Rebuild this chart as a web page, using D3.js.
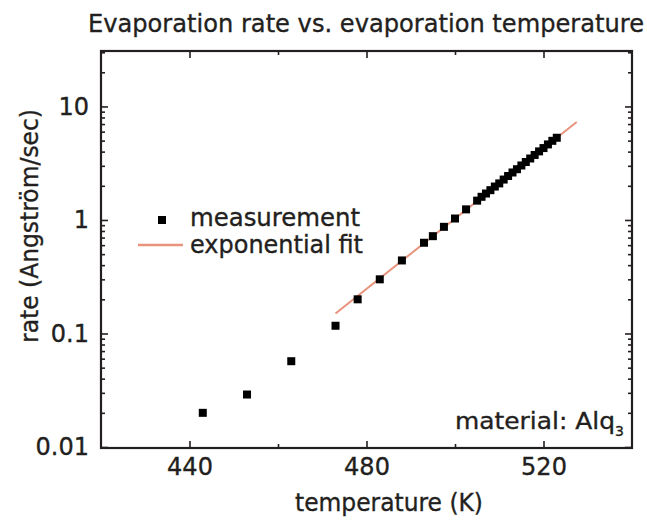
<!DOCTYPE html>
<html>
<head>
<meta charset="utf-8">
<script src="https://cdn.jsdelivr.net/npm/d3@7"></script>
<style>
  html, body { margin: 0; padding: 0; background: #fff; }
  svg { display: block; }
  text { font-family: "DejaVu Sans", sans-serif; fill: #231f20; stroke: #231f20; stroke-width: 0.35px; }
</style>
</head>
<body>
<svg id="chart" width="647" height="525"></svg>
<script>
// ---- data ----
const temperatures = [443, 453, 463, 473, 478, 483, 488, 493, 495, 497.5, 500, 502.5, 505,
  506, 507, 508, 509, 510, 511, 512, 513, 514, 515, 516, 517, 518, 519, 520, 521, 522, 523];
const rates = [0.020, 0.029, 0.057, 0.117, 0.20, 0.30, 0.44, 0.63, 0.72, 0.87, 1.03, 1.24, 1.48,
  1.60, 1.71, 1.83, 1.97, 2.10, 2.27, 2.44, 2.62, 2.80, 3.02, 3.24, 3.48, 3.74, 4.02, 4.30, 4.63, 4.98, 5.30];
const fitTemperatures = [473, 527.5];
const fitRates = [0.15, 7.3];
const xMajorTicks = [440, 480, 520];
const xMinorTicks = [460, 500];
const yMajorTicks = [0.01, 0.1, 1, 10];
const yTickLabels = ["0.01", "0.1", "1", "10"];
const titleText = "Evaporation rate vs. evaporation temperature";
const xTitle = "temperature (K)";
const yTitle = "rate (Angström/sec)";
const legendLabels = ["measurement", "exponential fit"];

// ---- layout ----
const L = 101, R = 632, T = 51, B = 448;
const ink = "#231f20";
const fitColor = "#e8937c";

const svg = d3.select("#chart");

const x = d3.scaleLinear().domain([420, 540]).range([L, R]);
const y = d3.scaleLog().domain([0.0098, 30.8]).range([B, T]);

const yMinorTicks = [];
[0.01, 0.1, 1, 10].forEach(d => { for (let k = 2; k <= 9; k++) { const v = d * k; if (v <= y.domain()[1]) yMinorTicks.push(v); } });

// title
svg.append("text").attr("x", 366).attr("y", 32).attr("text-anchor", "middle")
  .attr("font-size", 24).attr("textLength", 556).attr("lengthAdjust", "spacingAndGlyphs")
  .text(titleText);

// axes with inward ticks
function styleAxis(g) {
  g.select(".domain").remove();
  g.selectAll(".tick line").attr("stroke", ink).attr("stroke-width", 1.6);
  g.selectAll(".tick text").attr("font-family", "DejaVu Sans, sans-serif").attr("font-size", 24).attr("fill", ink);
}
const xfmt = d3.format("d");
svg.append("g").attr("transform", `translate(0,${B})`)
  .call(d3.axisBottom(x).tickValues(xMajorTicks).tickSize(-7).tickPadding(10).tickFormat(xfmt))
  .call(styleAxis);
svg.append("g").attr("transform", `translate(0,${B})`)
  .call(d3.axisBottom(x).tickValues(xMinorTicks).tickSize(-4).tickFormat("")).call(styleAxis);
svg.append("g").attr("transform", `translate(0,${T})`)
  .call(d3.axisTop(x).tickValues(xMajorTicks).tickSize(-7).tickFormat("")).call(styleAxis);
svg.append("g").attr("transform", `translate(0,${T})`)
  .call(d3.axisTop(x).tickValues(xMinorTicks).tickSize(-4).tickFormat("")).call(styleAxis);

svg.append("g").attr("transform", `translate(${L},0)`)
  .call(d3.axisLeft(y).tickValues(yMajorTicks).tickSize(-7).tickPadding(12)
    .tickFormat((d, i) => yTickLabels[i]))
  .call(styleAxis);
svg.append("g").attr("transform", `translate(${L},0)`)
  .call(d3.axisLeft(y).tickValues(yMinorTicks).tickSize(-4).tickFormat("")).call(styleAxis);
svg.append("g").attr("transform", `translate(${R},0)`)
  .call(d3.axisRight(y).tickValues(yMajorTicks).tickSize(-7).tickFormat("")).call(styleAxis);
svg.append("g").attr("transform", `translate(${R},0)`)
  .call(d3.axisRight(y).tickValues(yMinorTicks).tickSize(-4).tickFormat("")).call(styleAxis);

// frame
svg.append("rect").attr("x", L).attr("y", T).attr("width", R - L).attr("height", B - T)
  .attr("fill", "none").attr("stroke", ink).attr("stroke-width", 2.2);

// axis titles
svg.append("text").attr("x", 389).attr("y", 511).attr("text-anchor", "middle")
  .attr("font-size", 24).attr("textLength", 188).attr("lengthAdjust", "spacingAndGlyphs").text(xTitle);
svg.append("text").attr("transform", "translate(38,226) rotate(-90)").attr("text-anchor", "middle")
  .attr("font-size", 24).attr("textLength", 234).attr("lengthAdjust", "spacingAndGlyphs").text(yTitle);

// fit line
const fitData = fitTemperatures.map((t, i) => [t, fitRates[i]]);
svg.append("path").datum(fitData)
  .attr("d", d3.line().x(d => x(d[0])).y(d => y(d[1])))
  .attr("fill", "none").attr("stroke", fitColor).attr("stroke-width", 2);

// measurement points
const S = 8;
svg.append("g").selectAll("rect").data(temperatures.map((t, i) => [t, rates[i]])).join("rect")
  .attr("x", d => x(d[0]) - S / 2).attr("y", d => y(d[1]) - S / 2)
  .attr("width", S).attr("height", S).attr("fill", "#000");

// legend
svg.append("rect").attr("x", 158).attr("y", 216).attr("width", S).attr("height", S).attr("fill", "#000");
svg.append("text").attr("x", 190).attr("y", 226).attr("font-size", 24)
  .attr("textLength", 170).attr("lengthAdjust", "spacingAndGlyphs").text(legendLabels[0]);
svg.append("line").attr("x1", 138).attr("x2", 183).attr("y1", 245).attr("y2", 245)
  .attr("stroke", fitColor).attr("stroke-width", 2.5);
svg.append("text").attr("x", 190).attr("y", 253).attr("font-size", 24)
  .attr("textLength", 173).attr("lengthAdjust", "spacingAndGlyphs").text(legendLabels[1]);

// annotation
const ann = svg.append("text").attr("x", 455).attr("y", 429).attr("font-size", 23);
ann.append("tspan").attr("textLength", 160).attr("lengthAdjust", "spacingAndGlyphs").text("material: Alq");
ann.append("tspan").attr("font-size", 14).attr("dy", 7).text("3");
</script>
</body>
</html>
